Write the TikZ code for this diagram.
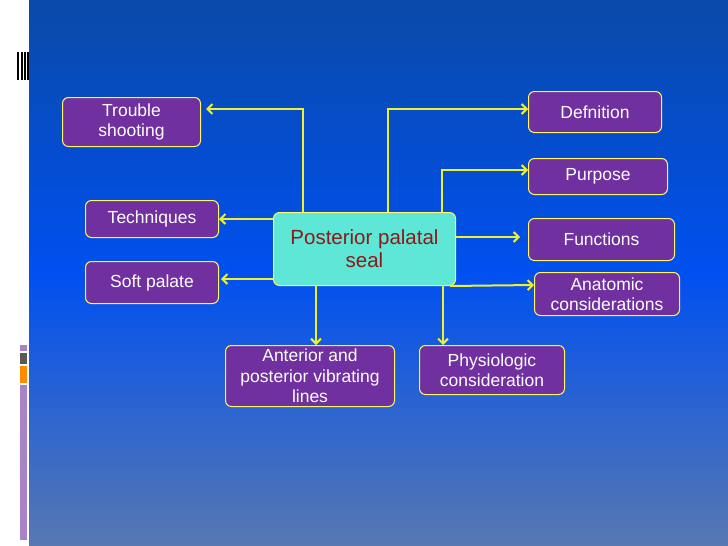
\documentclass[tikz,border=0pt]{standalone}
\usepackage{fontspec}
\setmainfont{Liberation Sans}
\usetikzlibrary{arrows.meta}
\begin{document}
\begin{tikzpicture}[x=1pt,y=-1pt,
  box/.style={draw=yellow!60!white, line width=1pt, fill=boxpurple, rounded corners=6pt, text=white, font=\fontsize{17.5}{20.5}\selectfont, align=center, inner sep=0pt, anchor=north west},
  con/.style={draw=conyellow, line width=2pt},
  arr/.style={con, -{Straight Barb[length=5pt,width=10pt,line width=2pt]}}]
\definecolor{boxpurple}{HTML}{7030A0}
\definecolor{conyellow}{HTML}{F0F030}
\definecolor{ctr}{HTML}{5EE6D6}
\definecolor{topb}{HTML}{0A4AA8}
\definecolor{midb}{HTML}{0050F0}
\definecolor{botb}{HTML}{5878B0}
\useasboundingbox (0,0) rectangle (728,546);
\fill[white] (0,0) rectangle (29,546);
\shade[top color=topb, bottom color=midb] (29,0) rectangle (728,273);
\shade[top color=midb, bottom color=botb] (29,273) rectangle (728,546);
% decoration
\foreach \xx in {17,20.5,24,27}{\fill[black] (\xx,52) rectangle +(2,28);}
\fill[boxpurple!60!white] (20,345) rectangle (27,351);
\fill[gray!70!black] (20,353) rectangle (27,364);
\fill[orange!90!yellow] (20,366) rectangle (27,383);
\fill[boxpurple!60!white] (20,385) rectangle (27,540);
% boxes
\node[box, minimum width=138pt, minimum height=49pt] (ts) at (62,97) {Trouble\\shooting};
\node[box, minimum width=133pt, minimum height=41pt] (def) at (528,91) {Defnition};
\node[box, minimum width=139pt, minimum height=36pt] (pur) at (528,158) {Purpose};
\node[box, minimum width=146pt, minimum height=42pt] (fun) at (528,218) {Functions};
\node[box, minimum width=145pt, minimum height=43pt] (ana) at (534,272) {Anatomic\\considerations};
\node[box, minimum width=133pt, minimum height=37pt] (tec) at (85,200) {Techniques};
\node[box, minimum width=133pt, minimum height=42pt] (soft) at (85,261) {Soft palate};
\node[box, minimum width=169pt, minimum height=61pt] (ant) at (225,345) {Anterior and\\posterior vibrating\\lines};
\node[box, minimum width=145pt, minimum height=49pt] (phy) at (419,345) {Physiologic\\consideration};
\node[box, fill=ctr, text={rgb,255:red,139;green,26;blue,26}, font=\fontsize{20.5}{23}\selectfont, minimum width=182pt, minimum height=73pt] (c) at (273,212) {Posterior palatal\\seal};
% connectors
\coordinate (tsend) at ([xshift=5pt]ts.east |- 0,109);
\draw[arr] (c.north -| 303,0) |- (tsend);
\draw[arr] (c.north -| 388,0) |- (def.west |- 0,109);
\draw[arr] (c.north -| 442,0) |- (pur.west |- 0,170);
\draw[arr] (c.west |- 0,219) -- (tec.east |- 0,219);
\draw[arr] (c.west |- 0,279) -- ([xshift=2pt]soft.east |- 0,279);
\draw[arr] (c.east |- 0,237) -- ([xshift=-8pt]fun.west |- 0,237);
\draw[arr] (c.south -| 450,0) -- (ana.west |- 0,285);
\draw[arr] (c.south -| 316,0) -- (ant.north -| 316,0);
\draw[arr] (c.south -| 443,0) -- (phy.north -| 443,0);
\end{tikzpicture}
\end{document}
